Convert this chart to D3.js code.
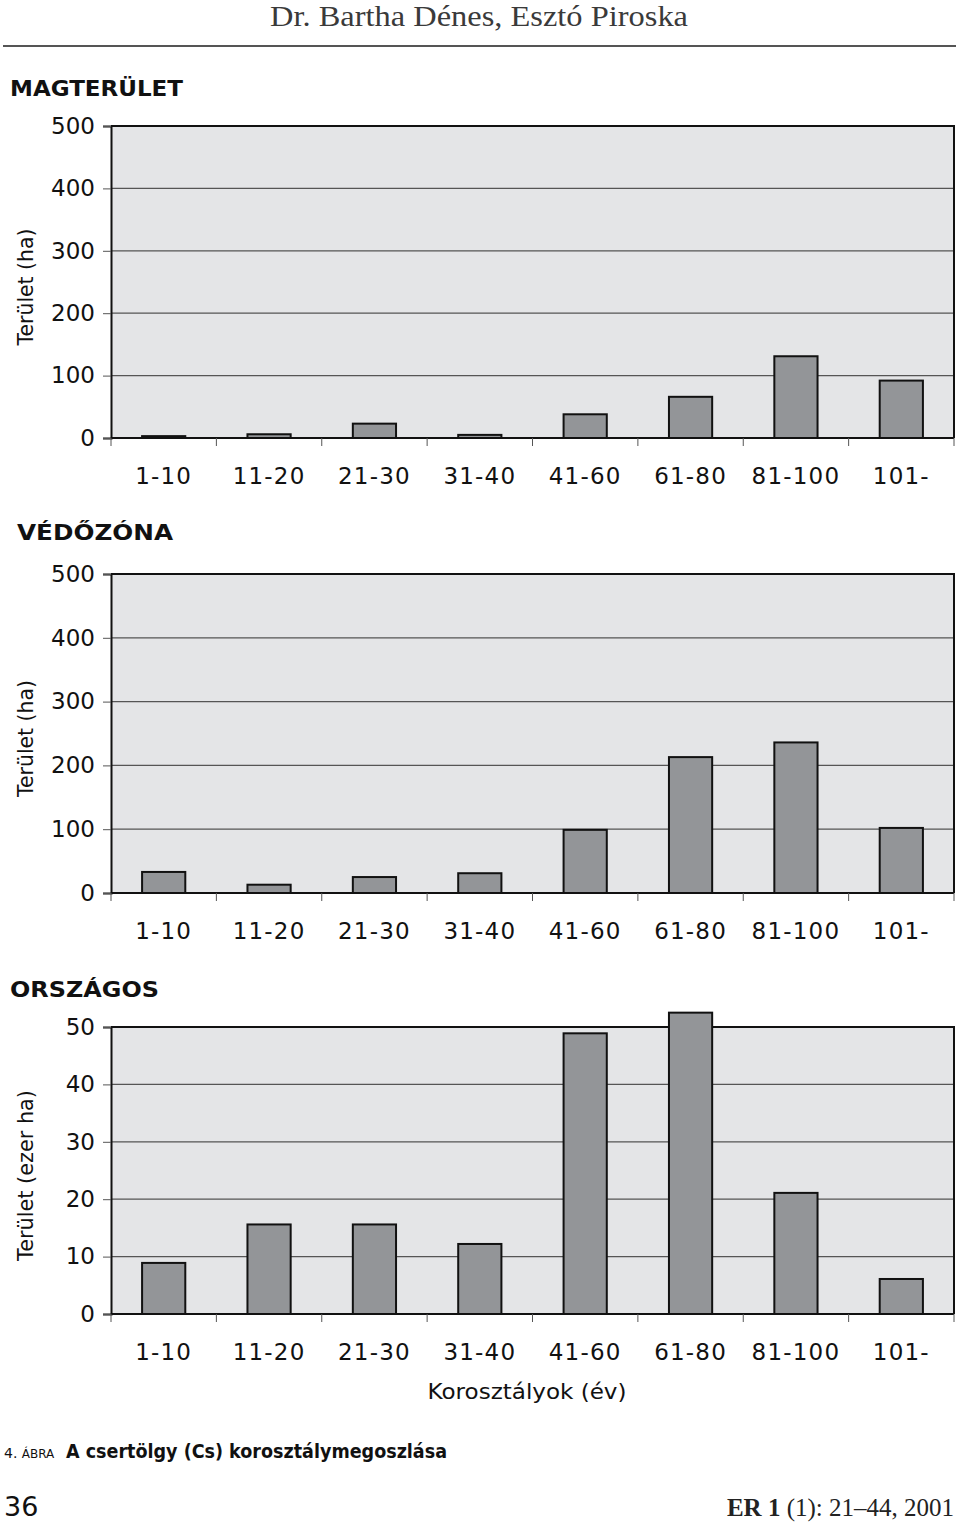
<!DOCTYPE html>
<head>
    <meta charset="utf-8">
    <script src="https://cdn.jsdelivr.net/npm/d3@7"></script>
    <style type="text/css">
        body { margin: 0; background: #fff; }
        svg { display: block; }
        .tick text { font-family: "DejaVu Sans", sans-serif; fill: #111; }
        .ttl { font-family: "DejaVu Sans", sans-serif; font-weight: bold; fill: #111; }
        .lab { font-family: "DejaVu Sans", sans-serif; fill: #111; }
    </style>
</head>
<body>
    <div id="chart"></div>
</body>
</html>

<script type="text/javascript">
    // age classes (korosztályok)
    var korosztalyok = ["1-10", "11-20", "21-30", "31-40", "41-60", "61-80", "81-100", "101-"];

    // area values
    var magterulet = [3, 6, 23, 5, 38, 66, 131, 92];          // ha
    var vedozona   = [33, 13, 25, 31, 99, 213, 236, 102];     // ha
    var orszagos   = [8.9, 15.6, 15.6, 12.2, 48.9, 52.5, 21.1, 6.1]; // ezer ha

    var haTicks   = [0, 100, 200, 300, 400, 500];
    var ezerTicks = [0, 10, 20, 30, 40, 50];

    var width = 960, height = 1524;
    var left = 111, right = 954;

    var svg = d3.select("#chart").append("svg")
        .attr("width", width)
        .attr("height", height);

    // header
    svg.append("text")
        .attr("x", 479).attr("y", 26)
        .attr("text-anchor", "middle")
        .attr("textLength", 418).attr("lengthAdjust", "spacingAndGlyphs")
        .style("font-family", "'Liberation Serif', serif")
        .style("font-size", "29px")
        .style("fill", "#3a3a3a")
        .text("Dr. Bartha Dénes, Esztó Piroska");

    svg.append("line")
        .attr("x1", 3).attr("x2", 956)
        .attr("y1", 46).attr("y2", 46)
        .style("stroke", "#555").style("stroke-width", 2);

    var x = d3.scaleBand()
        .domain(korosztalyok)
        .range([left, right])
        .paddingInner(0.59)
        .paddingOuter(0.295);

    function panel(opt) {
        var y = d3.scaleLinear()
            .domain([0, opt.max])
            .range([opt.bottom, opt.top]);

        var g = svg.append("g");

        // title
        g.append("text")
            .attr("class", "ttl")
            .attr("x", opt.titleX).attr("y", opt.titleY)
            .attr("textLength", opt.titleLen).attr("lengthAdjust", "spacingAndGlyphs")
            .style("font-size", "22px")
            .text(opt.title);

        // plot background
        g.append("rect")
            .attr("x", left).attr("y", opt.top)
            .attr("width", right - left).attr("height", opt.bottom - opt.top)
            .style("fill", "#e4e5e7");

        // grid
        g.selectAll(".grid")
            .data(opt.ticks.slice(1, -1))
          .enter().append("line")
            .attr("x1", left).attr("x2", right)
            .attr("y1", function(d) { return y(d); })
            .attr("y2", function(d) { return y(d); })
            .style("stroke", "#555").style("stroke-width", 1.2);

        // frame top + right
        g.append("path")
            .attr("d", "M" + left + "," + opt.top + "H" + right + "V" + opt.bottom)
            .style("fill", "none").style("stroke", "#111").style("stroke-width", 2);

        // bars
        g.selectAll(".bar")
            .data(opt.values)
          .enter().append("rect")
            .attr("x", function(d, i) { return x(korosztalyok[i]); })
            .attr("width", x.bandwidth())
            .attr("y", function(d) { return y(d); })
            .attr("height", function(d) { return opt.bottom - y(d); })
            .style("fill", "#939598")
            .style("stroke", "#111")
            .style("stroke-width", 2);

        // y axis
        var ya = g.append("g")
            .attr("transform", "translate(" + left + ",0)")
            .call(d3.axisLeft(y).tickValues(opt.ticks).tickSize(8).tickPadding(8));
        ya.select(".domain").style("stroke", "#111").style("stroke-width", 2);
        ya.selectAll(".tick line").style("stroke", "#555");
        ya.selectAll(".tick text").style("font-size", "23px");

        // x axis line
        g.append("line")
            .attr("x1", left).attr("x2", right)
            .attr("y1", opt.bottom).attr("y2", opt.bottom)
            .style("stroke", "#111").style("stroke-width", 2);

        // x tick marks at band borders
        g.selectAll(".xt")
            .data(d3.range(korosztalyok.length + 1))
          .enter().append("line")
            .attr("x1", function(i) { return left + i * x.step(); })
            .attr("x2", function(i) { return left + i * x.step(); })
            .attr("y1", opt.bottom).attr("y2", opt.bottom + 8)
            .style("stroke", "#555");

        // x labels
        g.selectAll(".xl")
            .data(korosztalyok)
          .enter().append("text")
            .attr("class", "lab")
            .attr("x", function(d) { return x(d) + x.bandwidth() / 2; })
            .attr("y", opt.bottom + 46)
            .attr("text-anchor", "middle")
            .style("font-size", "23px")
            .style("letter-spacing", "1.2px")
            .text(function(d) { return d; });

        // y title
        g.append("text")
            .attr("class", "lab")
            .attr("transform", "translate(33," + ((opt.top + opt.bottom) / 2 + 5) + ") rotate(-90)")
            .attr("text-anchor", "middle")
            .attr("textLength", opt.yLen).attr("lengthAdjust", "spacingAndGlyphs")
            .style("font-size", "21px")
            .text(opt.yTitle);
    }

    panel({ title: "MAGTERÜLET", titleX: 10, titleY: 96, titleLen: 173,
            values: magterulet, max: 500, ticks: haTicks,
            top: 126, bottom: 438, yTitle: "Terület (ha)", yLen: 117 });

    panel({ title: "VÉDŐZÓNA", titleX: 17, titleY: 540, titleLen: 156,
            values: vedozona, max: 500, ticks: haTicks,
            top: 574, bottom: 893, yTitle: "Terület (ha)", yLen: 117 });

    panel({ title: "ORSZÁGOS", titleX: 10, titleY: 997, titleLen: 149,
            values: orszagos, max: 50, ticks: ezerTicks,
            top: 1027, bottom: 1314, yTitle: "Terület (ezer ha)", yLen: 171 });

    // x axis title
    svg.append("text")
        .attr("class", "lab")
        .attr("x", 527).attr("y", 1399)
        .attr("text-anchor", "middle")
        .attr("textLength", 199).attr("lengthAdjust", "spacingAndGlyphs")
        .style("font-size", "22px")
        .text("Korosztályok (év)");

    // caption
    var cap = svg.append("text")
        .attr("x", 4).attr("y", 1458)
        .style("font-family", "'DejaVu Sans', sans-serif")
        .style("fill", "#111");
    cap.append("tspan").style("font-size", "14px").text("4. ");
    cap.append("tspan").style("font-size", "12px").text("ÁBRA");

    svg.append("text")
        .attr("class", "ttl")
        .attr("x", 66).attr("y", 1458)
        .attr("textLength", 381).attr("lengthAdjust", "spacingAndGlyphs")
        .style("font-size", "19px")
        .text("A csertölgy (Cs) korosztálymegoszlása");

    // footer
    svg.append("text")
        .attr("class", "lab")
        .attr("x", 4).attr("y", 1516)
        .style("font-size", "27px")
        .text("36");

    var foot = svg.append("text")
        .attr("x", 954).attr("y", 1516)
        .attr("text-anchor", "end")
        .style("font-family", "'Liberation Serif', serif")
        .style("font-size", "25px")
        .style("fill", "#222");
    foot.append("tspan").style("font-weight", "bold").text("ER 1");
    foot.append("tspan").text(" (1): 21–44, 2001");
</script>
